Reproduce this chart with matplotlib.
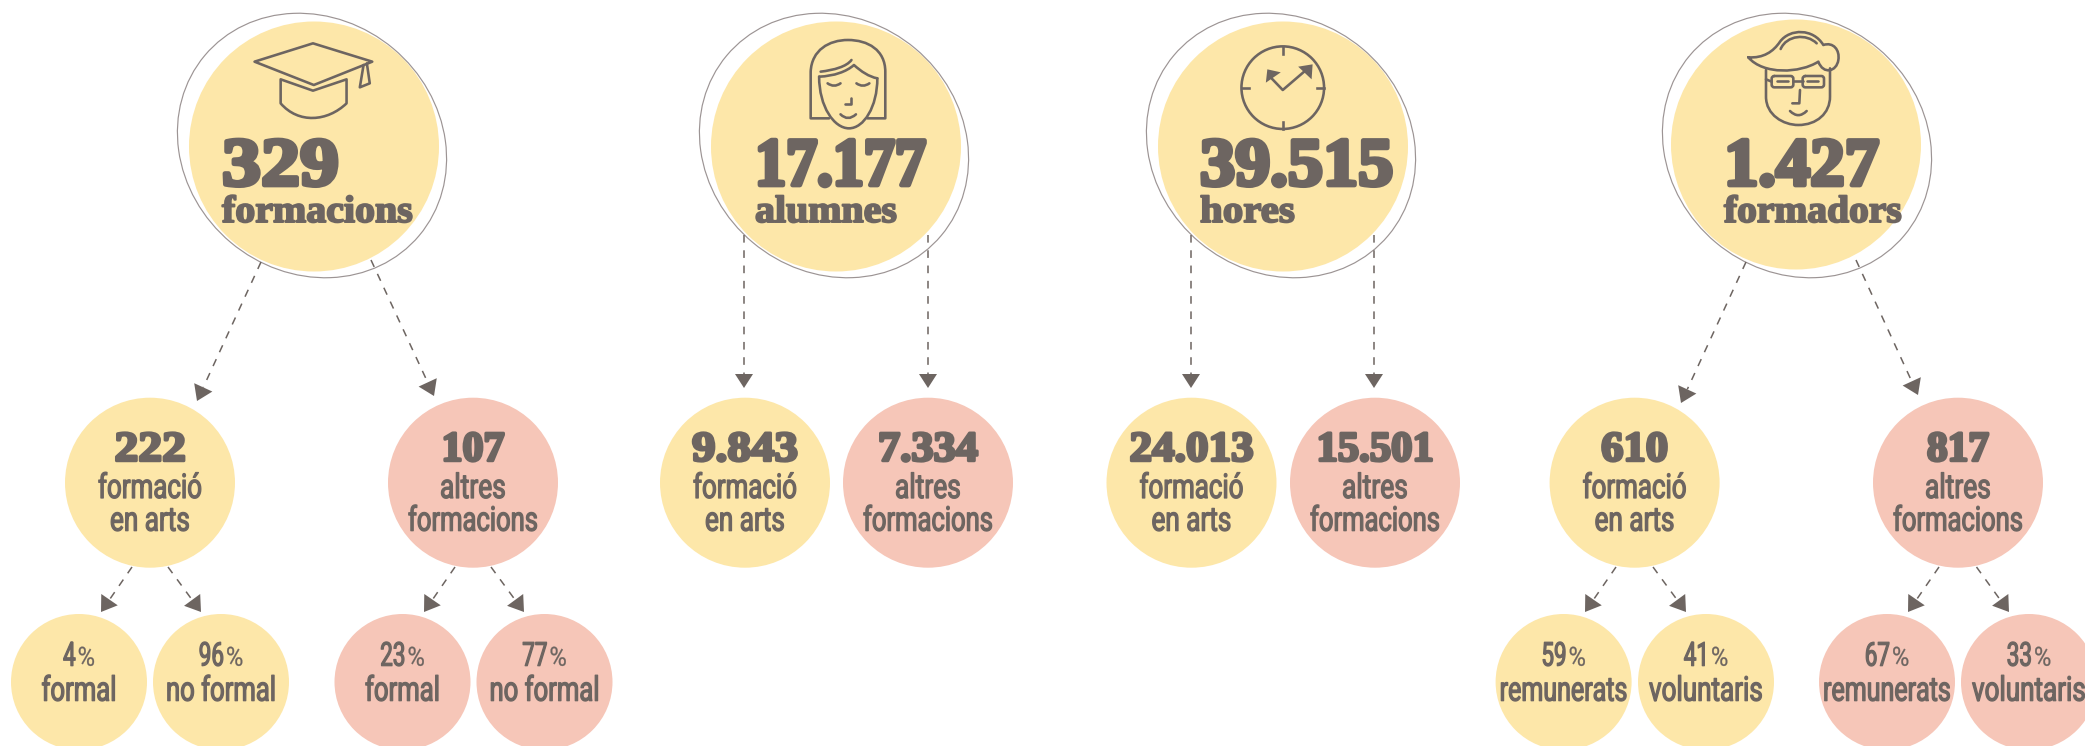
import matplotlib
matplotlib.use("Agg")
import matplotlib.pyplot as plt
from matplotlib.patches import Circle, Ellipse, Polygon, PathPatch
from matplotlib.path import Path
from matplotlib.transforms import Affine2D, Bbox
import matplotlib.patheffects as pe
import numpy as np

# ---------- data ----------
main_values = ["329", "17.177", "39.515", "1.427"]
main_labels = ["formacions", "alumnes", "hores", "formadors"]
arts_values = ["222", "9.843", "24.013", "610"]
other_values = ["107", "7.334", "15.501", "817"]
arts_label = ["formació", "en arts"]
other_label = ["altres", "formacions"]
leaf_pct_1 = ["4", "96", "23", "77"]
leaf_lab_1 = ["formal", "no formal", "formal", "no formal"]
leaf_pct_4 = ["59", "41", "67", "33"]
leaf_lab_4 = ["remunerats", "voluntaris", "remunerats", "voluntaris"]

# ---------- style / layout ----------
YEL, PINK, INK, RING = "#fde7a9", "#f6c6b8", "#6d6561", "#9c9494"
SERIF = ["Liberation Serif", "DejaVu Serif"]
NARROW = ["Roboto", "DejaVu Sans"]
PX = 72 / 100

main_cx = [314, 836, 1283, 1796]
main_text_x = [222, 755, 1200, 1724]
ring_cx = [312, 834, 1281, 1797]
mid_cx = [(150, 473), (745, 928), (1191.5, 1375), (1634.6, 1958)]
leaf_cx_1 = [79, 221, 402.5, 544.5]
leaf_cx_4 = [1563.6, 1706, 1887, 2029]

# widths (px) of the text runs in the reference
main_val_w = [117, 171, 193, 155]
main_lab_w = [191, 142, 95, 178]
arts_val_w = [71, 106, 124, 67]
other_val_w = [63, 100, 117, 62]
label_w = {"formació": 104, "en arts": 80, "altres": 66, "formacions": 130, "formal": 75,
           "no formal": 110, "remunerats": 128, "voluntaris": 114}

fig = plt.figure(figsize=(20.85, 7.46), dpi=100, facecolor="white")
ax = fig.add_axes([0, 0, 1, 1])
ax.set_xlim(0, 2085)
ax.set_ylim(746, 0)
ax.axis("off")
renderer = fig.canvas.get_renderer()


class Squeeze(pe.AbstractPathEffect):
    """Draw a text's glyphs scaled horizontally about a pixel x, with a stroke."""

    def __init__(self, sx, cx, w):
        super().__init__()
        self.sx, self.cx, self.w = sx, cx, w

    def draw_path(self, rend, gc, tpath, affine, rgbFace):
        aff = affine + Affine2D().translate(-self.cx, 0).scale(self.sx, 1).translate(self.cx, 0)
        g = rend.new_gc()
        g.copy_properties(gc)
        g.set_linewidth(self.w)
        g.set_foreground(INK)
        g.set_joinstyle("round")
        rend.draw_path(g, tpath, aff, rgbFace)
        g.restore()


def sq_text(x, y, s, size, family, ha="center", weight="normal", width=None, sx=None, w=0.5):
    t = ax.text(x, y, s, fontsize=size * PX, family=family, weight=weight, color=INK, ha=ha,
                va="baseline", zorder=6)
    bb = t.get_window_extent(renderer)
    if sx is None:
        sx = width / bb.width
    t.set_path_effects([Squeeze(sx, x, w)])
    real = t.get_window_extent

    def extent(r=None, dpi=None):
        b = real(r if r is not None else renderer, dpi)
        return Bbox.from_extents(x + (b.x0 - x) * sx, b.y0, x + (b.x1 - x) * sx, b.y1)

    t.get_window_extent = extent
    return bb.width * sx


def arrow(x0, y0, x1, y1, hl=15, hw=10, lw=1.1):
    d = np.array([x1 - x0, y1 - y0], float)
    d /= np.hypot(*d)
    n = np.array([-d[1], d[0]])
    tip = np.array([x1, y1], float)
    base = tip - d * hl
    ax.plot([x0, base[0]], [y0, base[1]], color=INK, lw=lw, ls=(0, (5, 5)), zorder=4)
    ax.add_patch(Polygon([tip, base + n * hw, base - n * hw], closed=True, fc=INK, ec="none", zorder=5))


def narrow(x, y, s, size=34):
    sq_text(x, y, s, size, NARROW, width=label_w[s], w=0.9)


def pct(cx, y, num, size=33):
    # digits are right-aligned and the sign left-aligned on their common junction
    t = ax.text(0, y, num, fontsize=size * PX, family=NARROW)
    wa = t.get_window_extent(renderer).width * 0.68
    t.remove()
    t = ax.text(0, y, "%", fontsize=size * 0.8 * PX, family=NARROW)
    wb = t.get_window_extent(renderer).width * 0.9
    t.remove()
    xj = cx - (wa + wb + 2) / 2 + wa + 1
    sq_text(xj - 1, y, num, size, NARROW, ha="right", sx=0.68, w=0.9)
    sq_text(xj + 1, y, "%", size * 0.8, NARROW, ha="left", sx=0.9, w=0.2)


def curve(points, lw=1.9, closed=False):
    """points: first vertex, then a vertex (line) or a tuple of 2 (quad) or 3 (cubic) vertices."""
    v, c = [points[0]], [Path.MOVETO]
    for seg in points[1:]:
        if len(seg) == 2 and not isinstance(seg[0], tuple):
            v.append(seg); c.append(Path.LINETO)
        elif len(seg) == 2:
            v += list(seg); c += [Path.CURVE3] * 2
        else:
            v += list(seg); c += [Path.CURVE4] * 3
    if closed:
        v.append(v[0]); c.append(Path.CLOSEPOLY)
    ax.add_patch(PathPatch(Path(v, c), fc="none", ec=INK, lw=lw * PX, zorder=6, capstyle="round", joinstyle="round"))


def mapper(ox, sx, sy=3.0):
    def f(*pts):
        return [(ox + x / sx, y / sy) for x, y in pts]
    return f


def T(f, p0, *segs):
    out = [f(p0)[0]]
    for s in segs:
        if isinstance(s[0], tuple):
            out.append(tuple(f(*s)))
        else:
            out.append(f(s)[0])
    return out


LW = 2.6


def icon_cap():
    f = mapper(0, 1568 / 650)
    curve(T(f, (755, 130), (898, 185), (757, 255), (614, 185)), LW, True)
    curve(T(f, (677, 238), (677, 310), ((720, 372), (790, 365), (836, 310)), (836, 238), (755, 272)), LW, True)
    curve(T(f, (877, 195), (868, 262), (892, 250), (885, 190)), LW)


def icon_woman():
    f = mapper(650, 1568 / 780)
    curve(T(f, (360, 355), (323, 355), (323, 215), ((325, 150), (360, 120), (398, 120)),
            ((438, 120), (473, 150), (473, 215)), (473, 355), (437, 355)), LW)
    curve(T(f, (340, 230), ((340, 320), (370, 385), (400, 385)), ((430, 385), (457, 320), (457, 235))), LW)
    curve(T(f, (340, 230), ((370, 228), (395, 215), (410, 195)), ((425, 215), (440, 230), (457, 235))), LW)
    curve(T(f, (343, 215), ((370, 210), (395, 200), (405, 180))), LW)
    curve(T(f, (357, 250), ((370, 264), (383, 250))), LW)
    curve(T(f, (415, 250), ((428, 264), (441, 250))), LW)
    curve(T(f, (405, 295), (405, 313), (393, 313)), LW)
    curve(T(f, (383, 343), ((398, 365), (414, 343))), LW)


def icon_clock():
    f = mapper(650, 1568 / 780)
    cx, cy = f((1272, 263))[0]
    ax.add_patch(Circle((cx, cy), 41.3, fc="none", ec=INK, lw=LW * PX, zorder=6))
    for a in range(4):
        dx, dy = np.cos(a * np.pi / 2), np.sin(a * np.pi / 2)
        ax.plot([cx + 41 * dx, cx + 34 * dx], [cy + 41 * dy, cy + 34 * dy], color=INK, lw=LW * PX, zorder=6)
    curve(T(f, (1245, 228), (1272, 270), (1315, 215)), LW)
    ax.add_patch(Polygon(f((1238, 248), (1241, 208), (1268, 217)), fc=INK, ec="none", zorder=6))
    ax.add_patch(Polygon(f((1303, 200), (1332, 193), (1330, 238)), fc=INK, ec="none", zorder=6))


def icon_man():
    f = mapper(1620, 3.0)
    curve(T(f, (385, 172), ((430, 175), (460, 155), (480, 125)), ((510, 85), (580, 85), (610, 135)),
            ((640, 125), (660, 150), (655, 180)), ((650, 215), (610, 225), (595, 185)),
            ((540, 220), (430, 225), (385, 172))), LW)
    curve(T(f, (482, 147), ((500, 105), (560, 100), (590, 130))), LW)
    curve(T(f, (438, 210), (438, 290), ((438, 345), (490, 375), (535, 375)),
            ((590, 375), (630, 340), (630, 290)), (630, 205)), LW)
    for a, b in [(455, 520), (548, 612)]:
        curve(T(f, (a + 8, 228), (b - 8, 228), ((b, 228), (b, 236)), (b, 254), ((b, 262), (b - 8, 262)),
                (a + 8, 262), ((a, 262), (a, 254)), (a, 236), ((a, 228), (a + 8, 228))), LW)
    curve(T(f, (520, 243), (548, 243)), LW)
    curve(T(f, (438, 238), (455, 245)), LW)
    curve(T(f, (470, 244), (505, 244)), LW)
    curve(T(f, (562, 244), (595, 244)), LW)
    curve(T(f, (540, 270), (538, 310), (517, 310)), LW)
    curve(T(f, (510, 333), ((535, 358), (560, 333))), LW)


# ---------- main circles ----------
main_cy = [146.5, 146.5, 146.5, 144.5]
for i in range(4):
    ax.add_patch(Circle((main_cx[i], main_cy[i]), 125, fc=YEL, ec="none", zorder=1))
    ax.add_patch(Ellipse((ring_cx[i], 145.5), 280, 253, angle=40, fc="none", ec=RING, lw=0.85, zorder=2))
    sq_text(main_text_x[i], 185, main_values[i], 68, SERIF, ha="left", weight="bold",
            width=main_val_w[i], w=3.4)
    sq_text(main_text_x[i], 222, main_labels[i], 38, SERIF, ha="left", weight="bold",
            width=main_lab_w[i], w=1.4)

icon_cap(); icon_woman(); icon_clock(); icon_man()

# ---------- mid circles ----------
MID_Y, R_MID = 482.7, 85
for i in range(4):
    for cx, col, val, vw, lab in [(mid_cx[i][0], YEL, arts_values[i], arts_val_w[i], arts_label),
                                  (mid_cx[i][1], PINK, other_values[i], other_val_w[i], other_label)]:
        ax.add_patch(Circle((cx, MID_Y), R_MID, fc=col, ec="none", zorder=1))
        sq_text(cx, 460.7, val, 42, SERIF, weight="bold", width=vw, w=2.2)
        narrow(cx, 498, lab[0])
        narrow(cx, 530.7, lab[1])

# ---------- leaf circles ----------
LEAF_Y, R_LEAF = 682, 68
cols = [YEL, YEL, PINK, PINK]
for cxs, pcts, labs in [(leaf_cx_1, leaf_pct_1, leaf_lab_1), (leaf_cx_4, leaf_pct_4, leaf_lab_4)]:
    for cx, p, l, c in zip(cxs, pcts, labs, cols):
        ax.add_patch(Circle((cx, LEAF_Y), R_LEAF, fc=c, ec="none", zorder=1))
        pct(cx, 665.7, p)
        narrow(cx, 700.7, l)

# ---------- arrows ----------
arrow(261, 262, 197, 401); arrow(371, 260, 434, 396)
for x in [744, 928, 1191, 1374]:
    arrow(x, 235, x, 388, hl=14, hw=9)
arrow(1746, 262, 1681, 403); arrow(1856, 260, 1918, 395)
for x0, x1, x2, x3 in [(132, 101, 168, 201), (455, 424, 491, 524), (1616, 1585, 1653, 1686), (1939, 1908, 1976.5, 2009)]:
    arrow(x0, 567, x1, 612)
    arrow(x2, 567, x3, 612)

fig.savefig("out.png", dpi=100, facecolor="white")
